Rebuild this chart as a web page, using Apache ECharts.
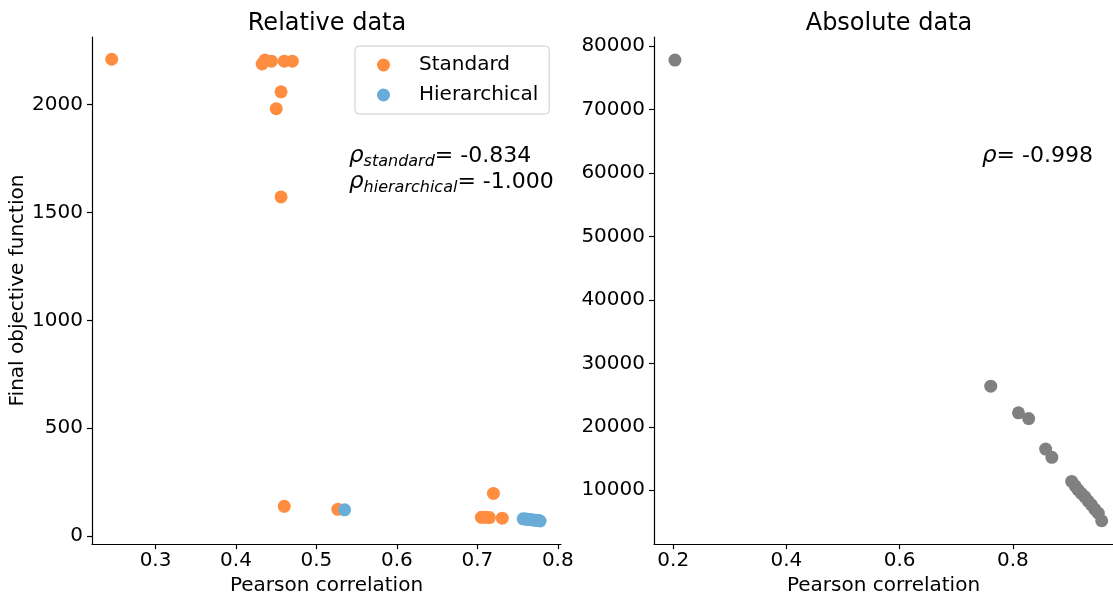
<!DOCTYPE html>
<html>
<head>
<meta charset="utf-8">
<script src="https://cdn.jsdelivr.net/npm/echarts@6/dist/echarts.min.js"></script>
<style>
html, body { margin: 0; padding: 0; background: #fff; }
#chart { width: 1113px; height: 601px; }
</style>
</head>
<body>
<div id="chart"></div>
<script>
// relative data (left panel)
var standardX = [0.2455, 0.4325, 0.436, 0.444, 0.460, 0.470, 0.456, 0.450, 0.456, 0.460, 0.5266, 0.720, 0.705, 0.710, 0.715, 0.731];
var standardY = [2210, 2188, 2206, 2201, 2201, 2201, 2059, 1981, 1572, 138, 124, 198, 87, 87, 86, 83];
var hierX = [0.535, 0.757, 0.760, 0.762, 0.765, 0.767, 0.769, 0.772, 0.774, 0.776, 0.778];
var hierY = [122, 80, 79, 78, 77, 76, 75, 74, 73, 72, 70];

// absolute data (right panel)
var absX = [0.203, 0.761, 0.810, 0.828, 0.858, 0.869, 0.904, 0.910, 0.915, 0.921, 0.927, 0.933, 0.939, 0.945, 0.951, 0.957];
var absY = [77800, 26400, 22200, 21300, 16500, 15200, 11400, 10700, 10100, 9500, 9000, 8300, 7700, 7000, 6400, 5200];

// tick labels
var relXTicks = [0.3, 0.4, 0.5, 0.6, 0.7, 0.8];
var relYTicks = [0, 500, 1000, 1500, 2000];
var absXTicks = [0.2, 0.4, 0.6, 0.8];
var absYTicks = [10000, 20000, 30000, 40000, 50000, 60000, 70000, 80000];

var FONT = 'DejaVu Sans';
var TICK_FS = 20;

function pairs(xs, ys) {
	var out = [];
	for (var i = 0; i < xs.length; i++) {
		out.push([xs[i], ys[i]]);
	}
	return out;
}

function makeAxis(gridIndex, min, max, ticks, decimals, name, nameGap, isY) {
	return {
		type: 'value',
		gridIndex: gridIndex,
		min: min,
		max: max,
		name: name,
		nameLocation: 'middle',
		nameGap: nameGap,
		nameTextStyle: { fontFamily: FONT, fontSize: TICK_FS, color: '#000' },
		splitLine: { show: false },
		axisLine: { show: true, onZero: false, lineStyle: { color: '#000', width: 1.2 } },
		axisTick: { show: true, length: 5, customValues: ticks, lineStyle: { color: '#000', width: 1.2 } },
		axisLabel: {
			customValues: ticks,
			margin: isY ? 9 : 7,
			fontFamily: FONT,
			fontSize: TICK_FS,
			color: '#000',
			formatter: function(v) { return v.toFixed(decimals); }
		}
	};
}

var myChart = echarts.init(document.getElementById('chart'));

var option = {
	animation: false,
	backgroundColor: '#fff',
	title: [
		{ text: 'Relative data', left: 322, top: 7, textAlign: 'center',
			textStyle: { fontFamily: FONT, fontSize: 24, fontWeight: 'normal', color: '#000' } },
		{ text: 'Absolute data', left: 884, top: 7, textAlign: 'center',
			textStyle: { fontFamily: FONT, fontSize: 24, fontWeight: 'normal', color: '#000' } }
	],
	grid: [
		{ left: 92, top: 37, width: 469, height: 511 },
		{ left: 654, top: 37, width: 459, height: 511 }
	],
	legend: {
		data: ['Standard', 'Hierarchical'],
		orient: 'vertical',
		left: 355,
		top: 46,
		icon: 'circle',
		itemWidth: 13,
		itemHeight: 13,
		itemGap: 10,
		padding: [9, 11, 9, 22],
		borderColor: '#cccccc',
		borderWidth: 1,
		borderRadius: 4,
		textStyle: { fontFamily: FONT, fontSize: TICK_FS, color: '#000', padding: [0, 0, 0, 24] }
	},
	xAxis: [
		makeAxis(0, 0.221, 0.804, relXTicks, 1, 'Pearson correlation', 28, false),
		makeAxis(1, 0.166, 0.977, absXTicks, 1, 'Pearson correlation', 28, false)
	],
	yAxis: [
		makeAxis(0, -37, 2313, relYTicks, 0, 'Final objective function', 60, true),
		makeAxis(1, 1520, 81430, absYTicks, 0, '', 0, true)
	],
	graphic: [
		{
			type: 'text', left: 349, top: 145,
			style: {
				text: '{r|ρ}{s|standard}{n|= -0.834}\n{r|ρ}{s|hierarchical}{n|= -1.000}',
				rich: {
					r: { fontFamily: FONT, fontSize: 23, fontStyle: 'italic', lineHeight: 26, fill: '#000' },
					s: { fontFamily: FONT, fontSize: 16, fontStyle: 'italic', lineHeight: 15, verticalAlign: 'bottom', fill: '#000' },
					n: { fontFamily: FONT, fontSize: 22, lineHeight: 26, fill: '#000' }
				}
			}
		},
		{
			type: 'text', left: 982, top: 145,
			style: {
				text: '{r|ρ}{n|= -0.998}',
				rich: {
					r: { fontFamily: FONT, fontSize: 23, fontStyle: 'italic', lineHeight: 26, fill: '#000' },
					n: { fontFamily: FONT, fontSize: 22, lineHeight: 26, fill: '#000' }
				}
			}
		}
	],
	series: [
		{
			name: 'Standard', type: 'scatter', xAxisIndex: 0, yAxisIndex: 0,
			symbolSize: 13, itemStyle: { color: '#ff8d3f', opacity: 1 },
			data: pairs(standardX, standardY)
		},
		{
			name: 'Hierarchical', type: 'scatter', xAxisIndex: 0, yAxisIndex: 0,
			symbolSize: 13, itemStyle: { color: '#69acd8', opacity: 1 },
			data: pairs(hierX, hierY)
		},
		{
			name: 'Absolute', type: 'scatter', xAxisIndex: 1, yAxisIndex: 1,
			symbolSize: 13, itemStyle: { color: '#808080', opacity: 1 },
			data: pairs(absX, absY)
		}
	]
};
myChart.setOption(option);
</script>
</body>
</html>
